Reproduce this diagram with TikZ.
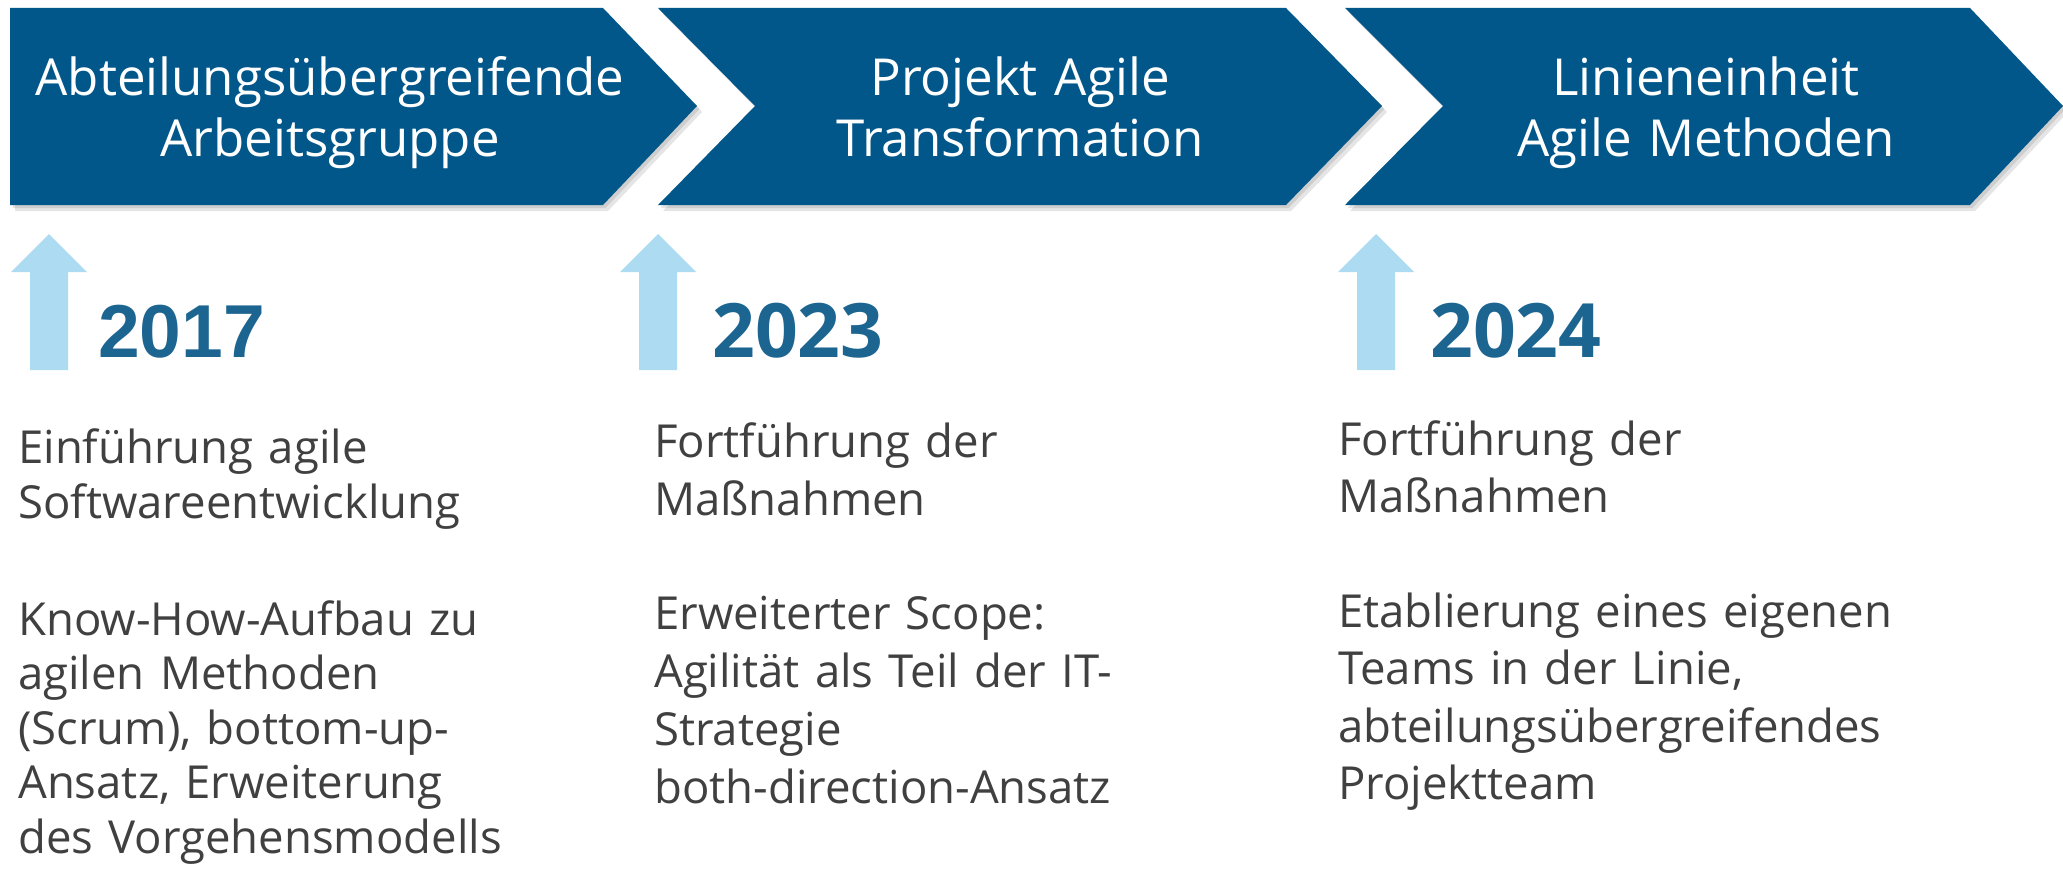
\documentclass[tikz,border=0pt]{standalone}
\usepackage{fontspec}
\setmainfont{Open Sans}
\newfontfamily\arialfam{Liberation Sans}
\definecolor{chev}{HTML}{02578A}
\definecolor{yearc}{HTML}{1D6591}
\definecolor{arrowc}{HTML}{ADDBF2}
\definecolor{bodytxt}{HTML}{404040}
\tikzset{
  chevron/.style={fill=chev,
    preaction={fill=black,opacity=0.10,transform canvas={shift={(2.5pt,-3pt)}}},
    preaction={fill=black,opacity=0.10,transform canvas={shift={(5pt,-6pt)}}}},
  title/.style={anchor=base, inner sep=0pt, text width=700pt, align=center,
    text=white, font=\fontsize{51}{62}\selectfont},
  bodytext/.style={anchor=base west, inner sep=0pt, text width=640pt, align=left,
    text=bodytxt},
  yeartext/.style={anchor=base west, inner sep=0pt, text=yearc},
  uparrow/.pic={\fill[arrowc] (-19,0) -- (-19,-98) -- (-38,-98) -- (0,-136)
     -- (38,-98) -- (19,-98) -- (19,0) -- cycle;}
}
\begin{document}
\begin{tikzpicture}[x=1pt,y=-1pt]
\useasboundingbox (0,0) rectangle (2063,875);
% chevrons
\path[chevron] (10,8) -- (603,8) -- (697,106) -- (603,205) -- (10,205) -- cycle;
\path[chevron] (658,8) -- (1286,8) -- (1382,106) -- (1286,205) -- (658,205) -- (755,106) -- cycle;
\path[chevron] (1345,8) -- (1970,8) -- (2063,106) -- (1970,205) -- (1345,205) -- (1443,106) -- cycle;
% titles
\node[title] (t1) at (330,95) {Abteilungsübergreifende\\Arbeitsgruppe};
\node[title] (t2) at (1020,95) {Projekt Agile\\Transformation};
\node[title] (t3) at (1706,95) {Linieneinheit\\Agile Methoden};
% arrows
\pic at (49,370) {uparrow};
\pic at (658,370) {uparrow};
\pic at (1376,370) {uparrow};
% years
\node[yeartext, font=\arialfam\bfseries\fontsize{75}{80}\selectfont] (y1) at (98,357) {2017};
\node[yeartext, font=\bfseries\fontsize{75}{80}\selectfont] (y2) at (712,357) {2023};
\node[yeartext, font=\bfseries\fontsize{75}{80}\selectfont] (y3) at (1430,357) {2024};
% body texts
\node[bodytext, font=\fontsize{45.5}{55}\selectfont] (a1) at (18,463) {Einführung agile\\Softwareentwicklung};
\node[bodytext, font=\fontsize{45.5}{54.5}\selectfont] (a2) at (18,635) {Know-How-Aufbau zu\\agilen Methoden\\(Scrum), bottom-up-\\Ansatz, Erweiterung\\des Vorgehensmodells};
\node[bodytext, font=\fontsize{45.5}{58}\selectfont] (b1) at (654,457) {Fortführung der\\Maßnahmen};
\node[bodytext, font=\fontsize{45.5}{58}\selectfont] (b2) at (654,629) {Erweiterter Scope:\\Agilität als Teil der IT-\\Strategie\\both-direction-Ansatz};
\node[bodytext, font=\fontsize{45.5}{57.5}\selectfont] (c1) at (1338,455) {Fortführung der\\Maßnahmen};
\node[bodytext, font=\fontsize{45.5}{57.5}\selectfont] (c2) at (1338,627) {Etablierung eines eigenen\\Teams in der Linie,\\abteilungsübergreifendes\\Projektteam};
\end{tikzpicture}
\end{document}
